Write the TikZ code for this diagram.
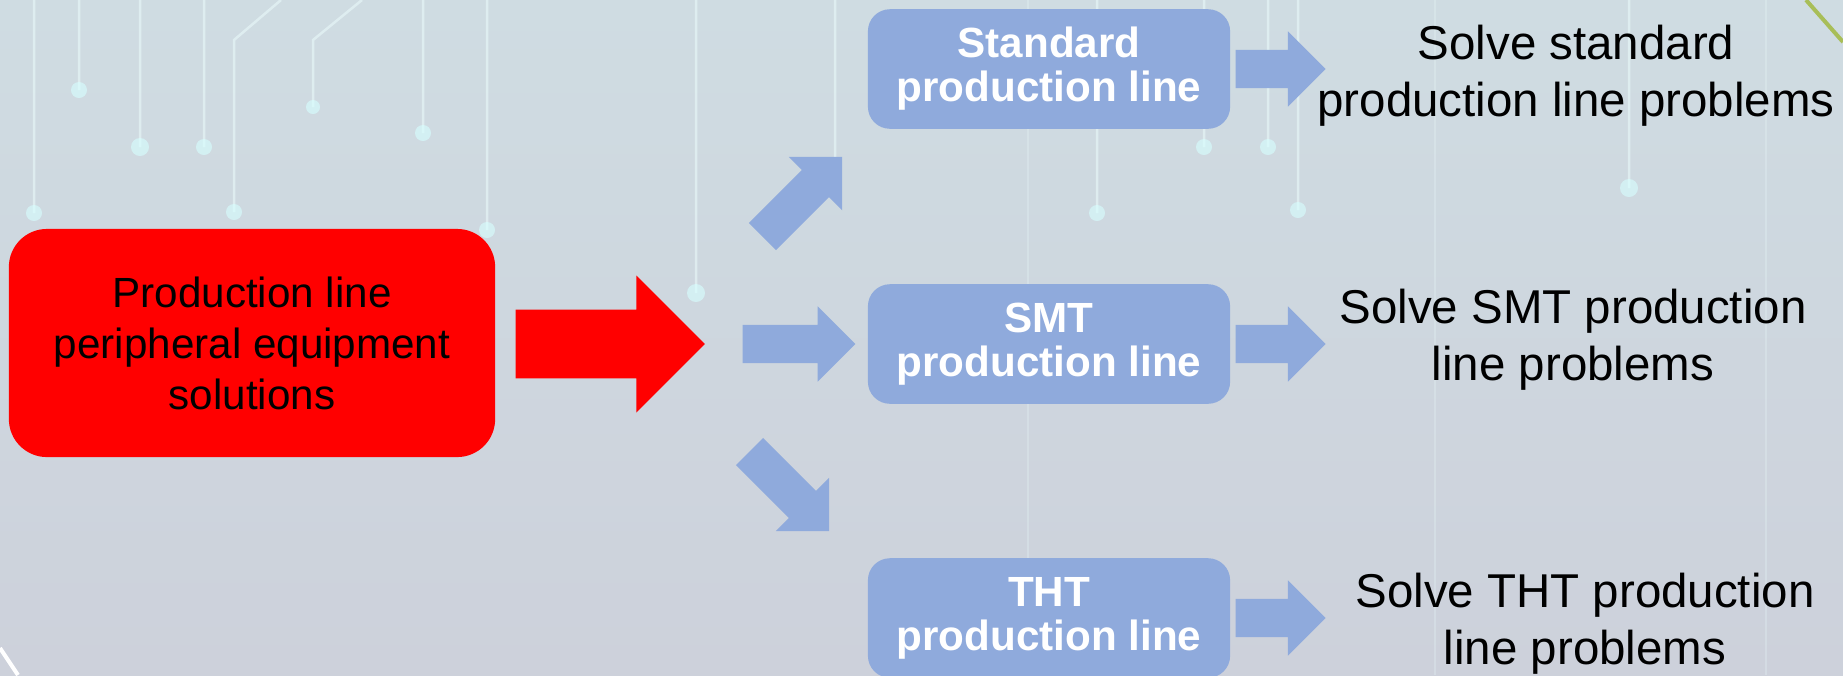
\documentclass[tikz,border=0pt]{standalone}
\usepackage{fontspec}
\setmainfont{Liberation Sans}
\usetikzlibrary{positioning,shapes.arrows}

\definecolor{boxblue}{HTML}{8FAADC}
\definecolor{bgtop}{RGB}{207,220,226}
\definecolor{bgbot}{RGB}{205,209,219}
\definecolor{tracecol}{RGB}{236,252,252}
\definecolor{glowcol}{RGB}{215,255,255}
\definecolor{leafgreen}{RGB}{168,190,88}

\tikzset{
	mainbox/.style={rectangle, rounded corners=0.38cm, fill=red, align=center,
		minimum width=4.86cm, minimum height=2.28cm, inner sep=0pt,
		font=\fontsize{12}{14.5}\selectfont},
	linebox/.style={rectangle, rounded corners=0.22cm, fill=boxblue, text=white,
		align=center, minimum width=3.62cm, minimum height=1.195cm, inner sep=0pt,
		font=\fontsize{12}{12.5}\selectfont\bfseries},
	result/.style={align=center, inner sep=0pt, font=\fontsize{13.5}{16.2}\selectfont},
	bigarrow/.style={single arrow, fill=red, single arrow tip angle=90, anchor=tail,
		inner sep=0.3375cm, single arrow head extend=0.34cm, minimum height=1.89cm},
	splitarrow/.style={single arrow, fill=boxblue, single arrow tip angle=90, anchor=tail,
		inner sep=0.185cm, single arrow head extend=0.185cm, minimum height=1.125cm},
	outarrow/.style={splitarrow, minimum height=0.9cm},
	trace/.style={draw=tracecol, line width=0.025cm, opacity=0.55},
	glow/.style={fill=glowcol, opacity=0.6},
}

\begin{document}
\begin{tikzpicture}[x=0.01cm, y=-0.01cm]
	% background
	\useasboundingbox (0,0) rectangle (1843,675);
	\shade [top color=bgtop, bottom color=bgbot] (0,0) rectangle (1843,675);
	\draw [trace]
	(34,0) -- (34,213) (79,0) -- (79,90) (140,0) -- (140,147)
	(204,0) -- (204,147) (281,0) -- (234,40) -- (234,212)
	(362,0) -- (313,40) -- (313,107) (423,0) -- (423,133)
	(487,0) -- (487,230) (696,0) -- (696,293) (835,0) -- (835,157)
	(1097,0) -- (1097,213) (1204,0) -- (1204,147) (1268,0) -- (1268,147)
	(1298,0) -- (1298,210) (1629,0) -- (1629,188)
	;
	\draw [trace, opacity=0.25]
	(1028,0) -- (1028,675) (1435,0) -- (1435,675) (1766,0) -- (1766,675)
	;
	\fill [glow]
	(34,213) circle (0.08cm) (79,90) circle (0.08cm) (140,147) circle (0.09cm)
	(204,147) circle (0.08cm) (234,212) circle (0.08cm) (313,107) circle (0.07cm)
	(423,133) circle (0.08cm) (487,230) circle (0.08cm) (696,293) circle (0.09cm)
	(1097,213) circle (0.08cm) (1204,147) circle (0.08cm) (1268,147) circle (0.08cm)
	(1298,210) circle (0.08cm) (1629,188) circle (0.09cm)
	;
	\draw [leafgreen, line width=0.04cm] (1806,0) -- (1843,42);
	\draw [white, line width=0.04cm] (0,648) -- (18,675);

	% source and split
	\node [mainbox] (source) at (252,343) {Production line\\peripheral equipment\\solutions};
	\node [bigarrow] (feed) at (515,344) {};
	\node [splitarrow, rotate=45] (toStd) at (762,237) {};
	\node [splitarrow] (toSmt) at (742,344) {};
	\node [splitarrow, rotate=-45] (toTht) at (749,451) {};

	% production lines
	\node [linebox] (std) at (1049,69) {Standard\\production line};
	\node [linebox] (smt) at (1049,344) {SMT\\production line};
	\node [linebox] (tht) at (1049,618) {THT\\production line};
	\node [outarrow] (stdOut) at ([xshift=0.04cm]std.east) {};
	\node [outarrow] (smtOut) at ([xshift=0.04cm]smt.east) {};
	\node [outarrow] (thtOut) at ([xshift=0.04cm]tht.east) {};

	% results
	\node [result] (stdRes) at (1576,76) {Solve standard\\production line problems};
	\node [result] (smtRes) at (1573,340) {Solve SMT production\\line problems};
	\node [result] (thtRes) at (1585,624) {Solve THT production\\line problems};
\end{tikzpicture}
\end{document}
